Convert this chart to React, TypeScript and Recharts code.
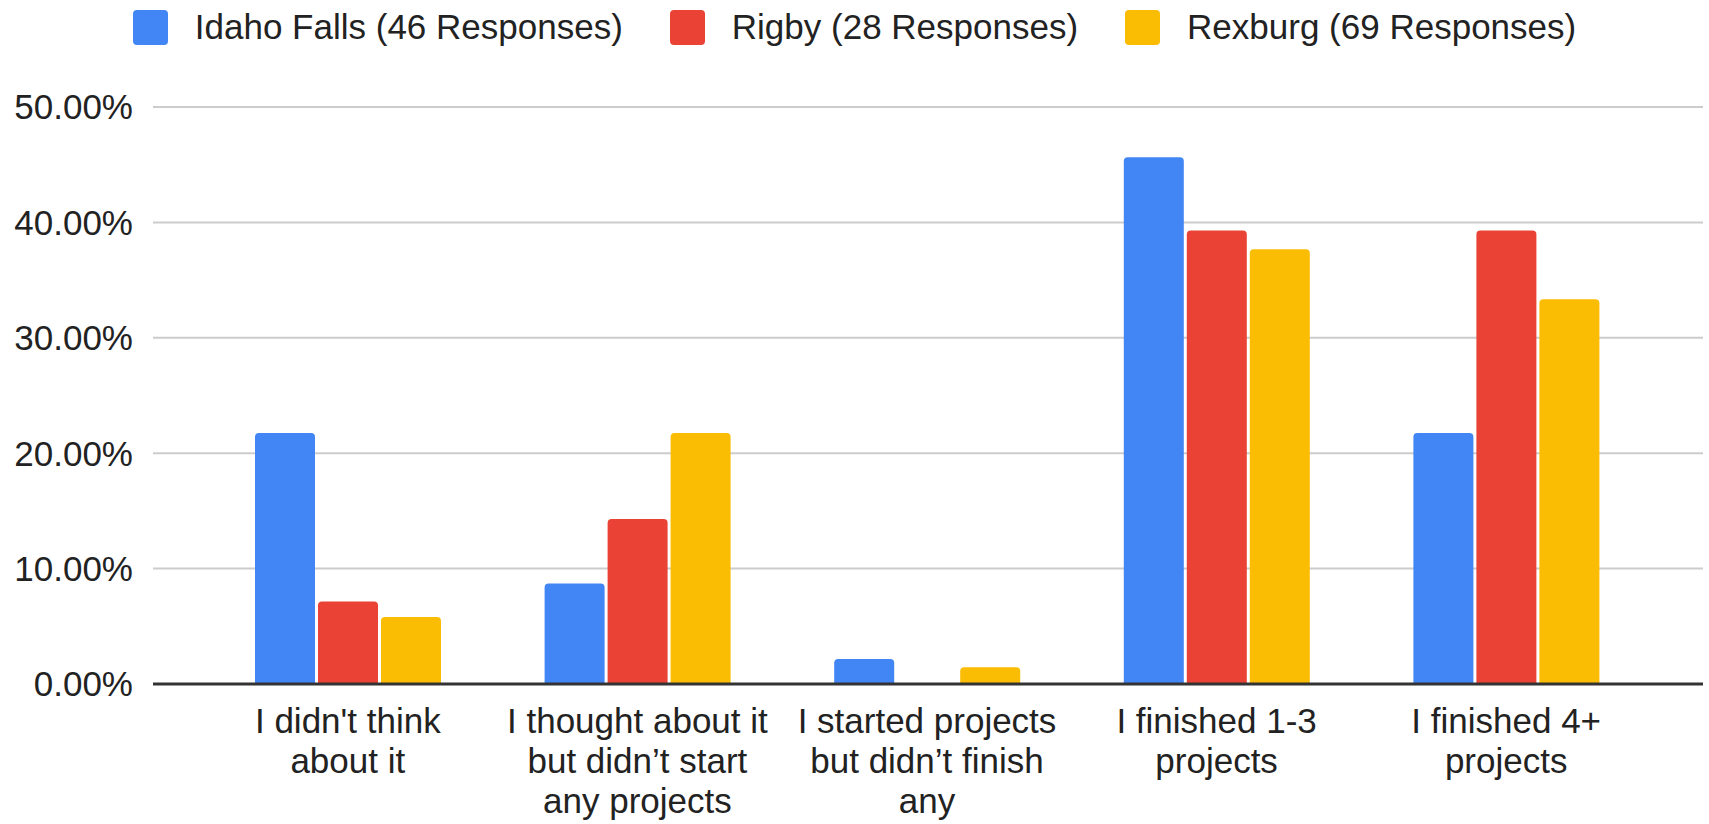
import { BarChart, Bar, XAxis, YAxis, CartesianGrid, Legend } from "recharts";

const FONT = '"Liberation Sans", Arial, sans-serif';

const categories = [
  "I didn't think about it",
  "I thought about it but didn’t start any projects",
  "I started projects but didn’t finish any",
  "I finished 1-3 projects",
  "I finished 4+ projects",
];

// wrapped tick labels, one entry per category
const tickLines = [
  ["I didn't think", "about it"],
  ["I thought about it", "but didn’t start", "any projects"],
  ["I started projects", "but didn’t finish", "any"],
  ["I finished 1-3", "projects"],
  ["I finished 4+", "projects"],
];

const idahoFalls = [21.74, 8.7, 2.17, 45.65, 21.74];
const rigby = [7.14, 14.29, 0, 39.29, 39.29];
const rexburg = [5.8, 21.74, 1.45, 37.68, 33.33];

const seriesNames = ["Idaho Falls (46 Responses)", "Rigby (28 Responses)", "Rexburg (69 Responses)"];
const seriesColors = ["#4285F4", "#EA4335", "#FBBC04"];

const yTicks = [0, 10, 20, 30, 40, 50];

const data = categories.map((c, i) => ({
  category: c,
  idaho: idahoFalls[i],
  rigby: rigby[i],
  rexburg: rexburg[i],
}));

const XTick = (props: any) => {
  const { x, y, index } = props;
  const lines = tickLines[index] || [];
  return (
    <text x={x} y={y} textAnchor="middle" fontSize={35} fontFamily={FONT} fill="#222">
      {lines.map((l, i) => (
        <tspan key={i} x={x} y={y + 41 + i * 40}>
          {l}
        </tspan>
      ))}
    </text>
  );
};

const YTick = (props: any) => {
  const { x, y, payload } = props;
  return (
    <text x={x} y={y} dy="0.355em" textAnchor="end" fontSize={35} fontFamily={FONT} fill="#222">
      {`${Number(payload.value).toFixed(2)}%`}
    </text>
  );
};

const LegendContent = () => (
  <div
    style={{
      display: "flex",
      justifyContent: "center",
      alignItems: "center",
      height: 54,
      fontFamily: FONT,
      fontSize: 35,
      color: "#222",
    }}
  >
    {seriesNames.map((n, i) => (
      <div key={n} style={{ display: "flex", alignItems: "center", marginRight: i < 2 ? 47 : 0 }}>
        <div style={{ width: 35, height: 35, borderRadius: 4, background: seriesColors[i], marginRight: 27 }} />
        <span style={{ whiteSpace: "nowrap" }}>{n}</span>
      </div>
    ))}
  </div>
);

export default function App() {
  return (
    <div style={{ position: "absolute", left: 0, top: 0, background: "#fff" }}>
      <BarChart
        width={1709}
        height={824}
        data={data}
        margin={{ top: 53, right: 6, bottom: 0, left: 0 }}
        barSize={60}
        barGap={3}
      >
        <Legend
          verticalAlign="top"
          content={<LegendContent />}
          wrapperStyle={{ top: 0, left: 0, width: 1709, height: 54 }}
        />
        <CartesianGrid vertical={false} stroke="#cccccc" strokeWidth={2} />
        <XAxis
          dataKey="category"
          interval={0}
          height={140}
          padding={{ left: 50, right: 52 }}
          tickLine={false}
          axisLine={{ stroke: "#333", strokeWidth: 3 }}
          tick={<XTick />}
        />
        <YAxis
          width={153}
          domain={[0, 50]}
          ticks={yTicks}
          axisLine={false}
          tickLine={false}
          tickMargin={14}
          tick={<YTick />}
        />
        <Bar dataKey="idaho" name={seriesNames[0]} fill={seriesColors[0]} radius={[4, 4, 0, 0]} isAnimationActive={false} />
        <Bar dataKey="rigby" name={seriesNames[1]} fill={seriesColors[1]} radius={[4, 4, 0, 0]} isAnimationActive={false} />
        <Bar dataKey="rexburg" name={seriesNames[2]} fill={seriesColors[2]} radius={[4, 4, 0, 0]} isAnimationActive={false} />
      </BarChart>
    </div>
  );
}
